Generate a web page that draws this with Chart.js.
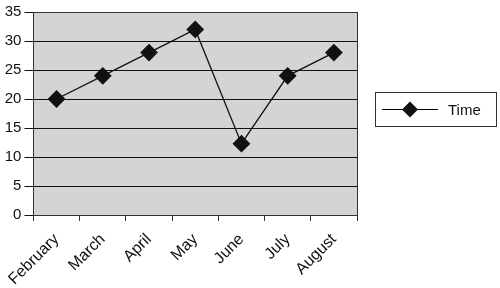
<!DOCTYPE html>
<html>
<head>
<meta charset="utf-8">
<script src="https://cdn.jsdelivr.net/npm/chart.js@4/dist/chart.umd.min.js"></script>
<style>
  html, body { margin: 0; padding: 0; background: #fff; }
  #wrap { width: 500px; height: 288px; }
</style>
</head>
<body>
<div id="wrap"><canvas id="mainChart" width="500" height="288"></canvas></div>
<script>
const months = ["February", "March", "April", "May", "June", "July", "August"];
const timeValues = [20, 24, 28, 32, 12.3, 24, 28];
const yTicks = [0, 5, 10, 15, 20, 25, 30, 35];
const seriesName = "Time";

const FONT = "'Liberation Sans Narrow', 'Liberation Sans', Arial, sans-serif";

// ---------------- Plot background + border ----------------
const plotFrame = {
    id: 'plotFrame',
    beforeDraw(chart) {
        const { ctx, chartArea: a } = chart;
        ctx.save();
        ctx.fillStyle = '#d4d4d4';
        ctx.fillRect(a.left, a.top, a.right - a.left, a.bottom - a.top);
        ctx.restore();
    },
    afterDatasetsDraw(chart) {
        const { ctx, chartArea: a } = chart;
        ctx.save();
        ctx.strokeStyle = '#333';
        ctx.lineWidth = 1;
        ctx.strokeRect(Math.round(a.left) + 0.5, Math.round(a.top) + 0.5,
            Math.round(a.right - a.left), Math.round(a.bottom - a.top));
        ctx.restore();
    }
};

// ---------------- Boxed legend ----------------
const boxLegend = {
    id: 'boxLegend',
    afterDraw(chart) {
        const ctx = chart.ctx;
        const ds = chart.data.datasets[0];
        const x = 375.5, y = 92.5, w = 121, h = 34;
        ctx.save();
        ctx.strokeStyle = '#333';
        ctx.lineWidth = 1;
        ctx.fillStyle = '#fff';
        ctx.fillRect(x, y, w, h);
        ctx.strokeRect(x, y, w, h);
        const cy = y + h / 2;
        ctx.strokeStyle = '#000';
        ctx.beginPath();
        ctx.moveTo(382, cy);
        ctx.lineTo(438, cy);
        ctx.stroke();
        ctx.fillStyle = '#111';
        ctx.beginPath();
        ctx.moveTo(410, cy - 8);
        ctx.lineTo(418, cy);
        ctx.lineTo(410, cy + 8);
        ctx.lineTo(402, cy);
        ctx.closePath();
        ctx.fill();
        ctx.font = "15px " + FONT;
        ctx.textBaseline = 'middle';
        ctx.fillStyle = '#111';
        ctx.fillText(ds.label, 448, cy + 1);
        ctx.restore();
    }
};

// ---------------- Chart Init ----------------
const ctx = document.getElementById('mainChart').getContext('2d');

new Chart(ctx, {
    type: 'line',
    data: {
        labels: months,
        datasets: [{
            label: seriesName,
            data: timeValues,
            borderColor: '#111',
            borderWidth: 1.3,
            pointStyle: 'rectRot',
            pointRadius: 8,
            pointBackgroundColor: '#111',
            pointBorderColor: '#111',
            tension: 0
        }]
    },
    options: {
        responsive: false,
        animation: false,
        layout: { padding: { top: 8, right: 143, left: 0, bottom: 0 } },
        plugins: { legend: { display: false }, tooltip: { enabled: false } },
        scales: {
            x: {
                offset: true,
                grid: { drawOnChartArea: false, drawTicks: true, tickLength: 6, color: '#333', offset: true },
                border: { display: false },
                ticks: {
                    minRotation: 45, maxRotation: 45, autoSkip: false,
                    color: '#111', padding: 9,
                    font: { family: FONT, size: 16 }
                },
                afterFit(scale) { scale.height = 73; }
            },
            y: {
                min: 0, max: 35,
                afterBuildTicks(scale) { scale.ticks = yTicks.map(v => ({ value: v })); },
                grid: { color: '#111', lineWidth: 1, tickLength: 9 },
                border: { display: false },
                ticks: {
                    color: '#111', padding: 3,
                    font: { family: FONT, size: 15 }
                },
                afterFit(scale) { scale.width = 32; }
            }
        }
    },
    plugins: [plotFrame, boxLegend]
});
</script>
</body>
</html>
